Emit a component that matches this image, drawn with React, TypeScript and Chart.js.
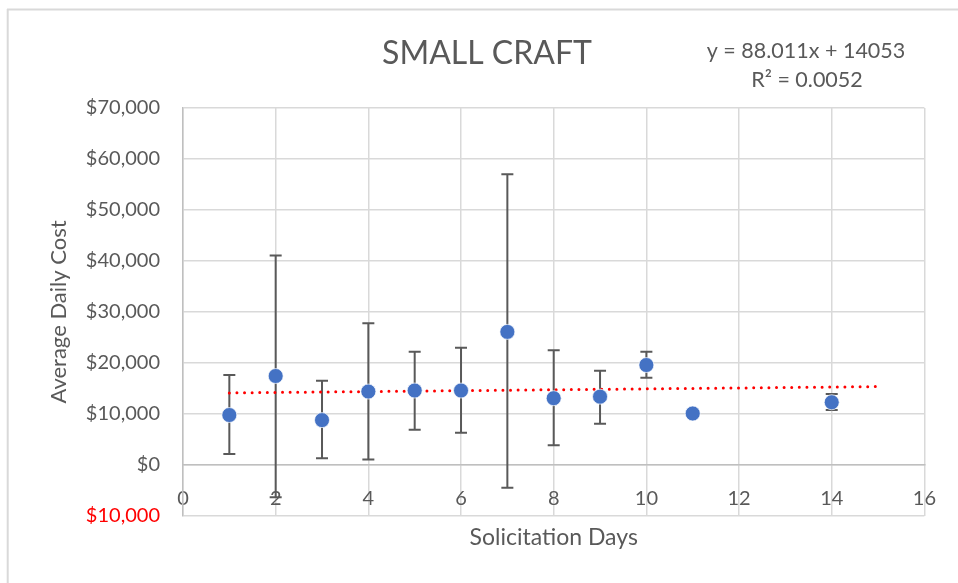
import React, { useEffect, useRef } from "react";
import { Chart, registerables } from "chart.js";

Chart.register(...registerables);

const days = [1, 2, 3, 4, 5, 6, 7, 8, 9, 10, 11, 14];
const avgCost = [9800, 17450, 8800, 14400, 14600, 14600, 26100, 13100, 13400, 19600, 10100, 12300];
const errHigh: (number | null)[] = [17650, 41100, 16500, 27800, 22200, 23000, 57000, 22500, 18500, 22200, null, 13900];
const errLow: (number | null)[] = [2150, -6300, 1300, 1100, 6900, 6300, -4450, 3850, 8100, 17100, null, 10800];
const trendSlope = 88.011;
const trendIntercept = 14053;
const trendRange = [1, 15];
const trendLabel = ["y = 88.011x + 14053", "R² = 0.0052"];
const chartTitle = "SMALL CRAFT";
const xTitle = "Solicitation Days";
const yTitle = "Average Daily Cost";

const FONT = "Lato, 'Open Sans', sans-serif";
const GRAY = "#595959";

const errorBarPlugin = {
  id: "errorBars",
  beforeDatasetsDraw(chart: any) {
    const { ctx, scales } = chart;
    const xs = scales.x;
    const ys = scales.y;
    ctx.save();
    ctx.strokeStyle = "#595959";
    ctx.lineWidth = 2;
    for (let i = 0; i < days.length; i++) {
      const lo = errLow[i];
      const hi = errHigh[i];
      if (lo == null || hi == null) continue;
      const px = xs.getPixelForValue(days[i]);
      const y1 = ys.getPixelForValue(lo);
      const y2 = ys.getPixelForValue(hi);
      ctx.beginPath();
      ctx.moveTo(px, y1);
      ctx.lineTo(px, y2);
      ctx.moveTo(px - 6, y1);
      ctx.lineTo(px + 6, y1);
      ctx.moveTo(px - 6, y2);
      ctx.lineTo(px + 6, y2);
      ctx.stroke();
    }
    ctx.restore();
  },
};

const decorPlugin = {
  id: "decor",
  beforeDraw(chart: any) {
    const { ctx, width, height } = chart;
    ctx.save();
    ctx.fillStyle = "#ffffff";
    ctx.fillRect(0, 0, width, height);
    ctx.strokeStyle = "#d9d9d9";
    ctx.lineWidth = 2;
    ctx.beginPath();
    ctx.moveTo(7, 9.5);
    ctx.lineTo(width, 9.5);
    ctx.moveTo(7.7, 9);
    ctx.lineTo(7.7, height);
    ctx.stroke();
    ctx.restore();
  },
  afterDraw(chart: any) {
    const { ctx } = chart;
    ctx.save();
    ctx.fillStyle = GRAY;
    ctx.textAlign = "center";
    ctx.textBaseline = "middle";
    ctx.font = `32px ${FONT}`;
    ctx.fillText(chartTitle, 487, 54);
    ctx.font = `21.5px ${FONT}`;
    ctx.fillText(trendLabel[0], 806, 51);
    ctx.fillText(trendLabel[1], 807, 80);
    ctx.restore();
  },
};

export default function App() {
  const ref = useRef<HTMLCanvasElement | null>(null);
  useEffect(() => {
    if (!ref.current) return;
    const points = days.map((d, i) => ({ x: d, y: avgCost[i] }));
    const trend = trendRange.map((x) => ({ x, y: trendSlope * x + trendIntercept }));
    const chart = new Chart(ref.current, {
      type: "scatter",
      data: {
        datasets: [
          {
            type: "scatter",
            label: "Average Daily Cost",
            data: points,
            pointRadius: 7.5,
            pointHoverRadius: 7.5,
            backgroundColor: "#4472C4",
            borderColor: "rgba(255,255,255,0.7)",
            borderWidth: 1,
            order: 0,
          },
          {
            type: "line",
            label: "Linear trend",
            data: trend,
            borderColor: "#ff0000",
            borderWidth: 3,
            borderDash: [0, 7.6],
            borderCapStyle: "round",
            pointRadius: 0,
            fill: false,
            order: 1,
          } as any,
        ],
      },
      options: {
        animation: false,
        responsive: false,
        layout: { padding: { left: 0, right: 31, top: 108, bottom: 0 } },
        plugins: {
          legend: { display: false },
          tooltip: { enabled: false },
          title: { display: false },
        },
        scales: {
          x: {
            type: "linear",
            position: { y: 0 } as any,
            min: 0,
            max: 16,
            ticks: {
              stepSize: 2,
              color: GRAY,
              font: { family: FONT, size: 20 },
              padding: 22,
            },
            grid: { color: "#d9d9d9", lineWidth: 1.5, drawTicks: false },
            border: { color: "#bfbfbf", width: 1.5 },
          },
          x2: {
            type: "linear",
            position: "bottom",
            min: 0,
            max: 16,
            ticks: { display: false },
            grid: { display: false, drawTicks: false },
            border: { display: false },
            title: {
              display: true,
              text: xTitle,
              color: GRAY,
              font: { family: FONT, size: 23 },
              padding: { top: 0, bottom: 32 },
            },
            afterFit(scale: any) {
              scale.height = 67;
            },
          },
          y: {
            type: "linear",
            min: -10000,
            max: 70000,
            ticks: {
              stepSize: 10000,
              color: (c: any) => (c.tick && c.tick.value < 0 ? "#ff0000" : GRAY),
              font: { family: FONT, size: 20 },
              padding: 23,
              callback: (v: any) => "$" + Math.abs(Number(v)).toLocaleString("en-US"),
            },
            grid: { color: "#d9d9d9", lineWidth: 1.5, drawTicks: false },
            border: { color: "#bfbfbf", width: 1.5 },
            title: {
              display: true,
              text: yTitle,
              color: GRAY,
              font: { family: FONT, size: 22 },
              padding: { top: 46, bottom: 0 },
            },
            afterFit(scale: any) {
              scale.width = 183;
            },
          },
        },
      },
      plugins: [errorBarPlugin, decorPlugin],
    });
    return () => chart.destroy();
  }, []);
  return (
    <div style={{ position: "fixed", left: 0, top: 0, width: 958, height: 583, background: "#fff" }}>
      <canvas ref={ref} width={958} height={583} style={{ display: "block" }} />
    </div>
  );
}
